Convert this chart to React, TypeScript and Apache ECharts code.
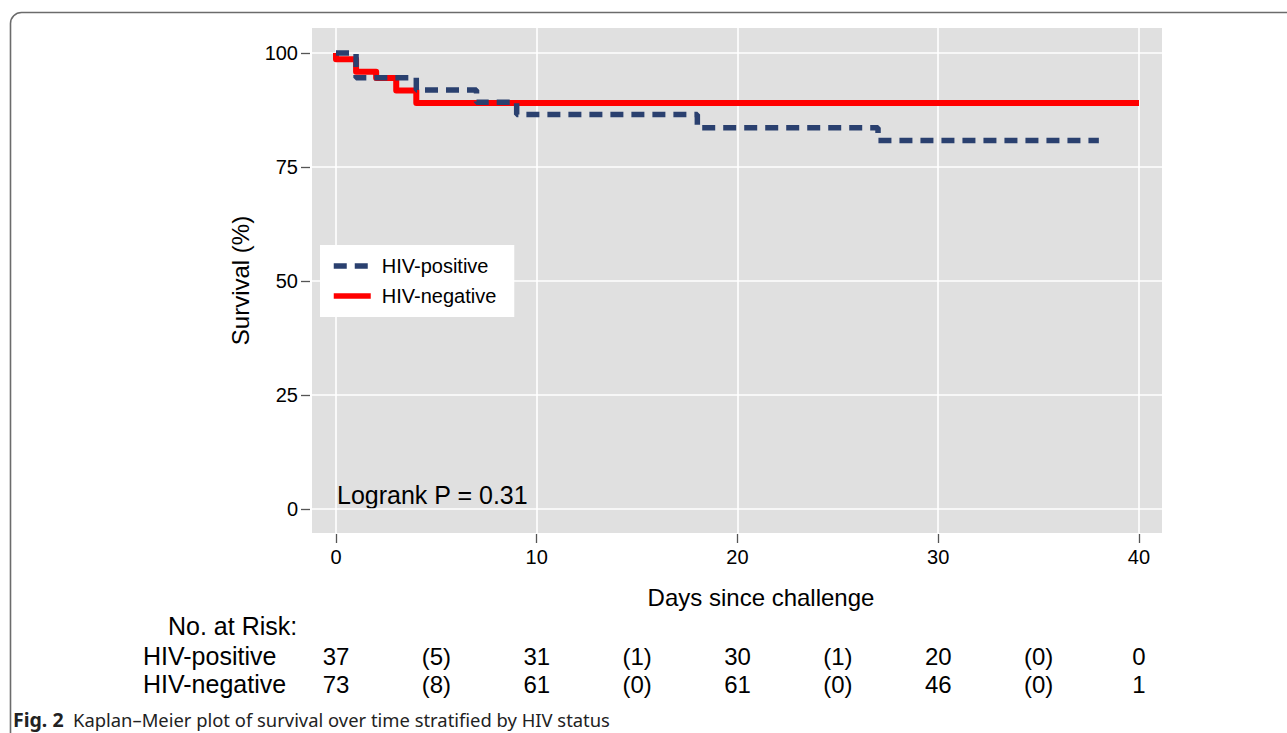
import React, { useEffect, useRef } from "react";
import * as echarts from "echarts";

// ---- data ----
const xTicks = [0, 10, 20, 30, 40];
const yTicks = [0, 25, 50, 75, 100];
const hivPositive: [number, number][] = [
  [0, 100], [1, 94.59], [4, 91.89], [7, 89.19], [9, 86.49], [18, 83.6], [27, 80.8], [38, 80.8],
];
const hivNegative: [number, number][] = [
  [0, 100], [0, 98.63], [1, 95.89], [2, 94.52], [3, 91.78], [4, 89.04], [40, 89.04],
];
const riskDays = [0, 5, 10, 15, 20, 25, 30, 35, 40];
const riskPositive = ["37", "(5)", "31", "(1)", "30", "(1)", "20", "(0)", "0"];
const riskNegative = ["73", "(8)", "61", "(0)", "61", "(0)", "46", "(0)", "1"];
const seriesNames = ["HIV-positive", "HIV-negative"];

const FONT = "'Liberation Sans', Arial, Helvetica, sans-serif";
const CAP_FONT = "'Noto Sans', 'Open Sans', sans-serif";
const X_MIN = -1.1955;
const X_MAX = 41.146;
const Y_MIN = -5.26;
const Y_MAX = 105.48;

function riskAxis(values: string[], offset: number) {
  return {
    type: "value",
    gridIndex: 0,
    min: X_MIN,
    max: X_MAX,
    position: "bottom",
    offset,
    axisLine: { show: false, onZero: false },
    axisTick: { show: false },
    splitLine: { show: false },
    axisLabel: {
      customValues: riskDays,
      formatter: (v: number) => {
        const i = riskDays.indexOf(Math.round(v));
        return i >= 0 ? values[i] : "";
      },
      fontSize: 24,
      fontFamily: FONT,
      color: "#000",
      margin: 0,
      verticalAlign: "middle",
    },
  };
}

export default function App() {
  const ref = useRef<HTMLDivElement>(null);
  useEffect(() => {
    if (!ref.current) return;
    const chart = echarts.init(ref.current, undefined, { renderer: "svg" });
    const option: any = {
      animation: false,
      backgroundColor: "#fff",
      textStyle: { fontFamily: FONT },
      grid: {
        left: 312, top: 28, width: 850, height: 505,
        show: true, backgroundColor: "#e0e0e0", borderWidth: 0,
      },
      xAxis: [
        {
          type: "value", min: X_MIN, max: X_MAX, position: "bottom", offset: 1,
          axisLine: { show: false, onZero: false },
          axisTick: { show: true, customValues: xTicks, length: 9, lineStyle: { color: "#555", width: 1.3 } },
          axisLabel: { customValues: xTicks, fontSize: 20, color: "#000", margin: 23, verticalAlign: "middle", fontFamily: FONT },
          splitLine: { show: true, lineStyle: { color: "#fff", width: 1.6 } },
          name: "Days since challenge", nameLocation: "middle", nameGap: 51,
          nameTextStyle: { fontSize: 24, color: "#000", fontFamily: FONT, padding: [0, 0, 0, 48] },
        },
        riskAxis(riskPositive, 123),
        riskAxis(riskNegative, 151),
      ],
      yAxis: {
        type: "value", min: Y_MIN, max: Y_MAX, offset: 2,
        axisLine: { show: false, onZero: false },
        axisTick: { show: true, customValues: yTicks, length: 9, lineStyle: { color: "#555", width: 1.3 } },
        axisLabel: { customValues: yTicks, fontSize: 20, color: "#000", margin: 12, fontFamily: FONT },
        splitLine: { show: true, lineStyle: { color: "#fff", width: 1.6 } },
        name: "Survival (%)", nameLocation: "middle", nameGap: 58,
        nameTextStyle: { fontSize: 24, color: "#000", fontFamily: FONT },
      },
      legend: {
        data: seriesNames,
        orient: "vertical",
        left: 320, top: 245,
        backgroundColor: "#fff",
        padding: [11, 18, 11, 11],
        itemGap: 10, itemWidth: 37, itemHeight: 20,
        selectedMode: false,
        textStyle: { fontSize: 20, color: "#000", fontFamily: FONT, lineHeight: 20, padding: [0, 0, 0, 6] },
        lineStyle: { width: 5.5 },
        itemStyle: { opacity: 0 },
      },
      series: [
        {
          name: seriesNames[1], type: "line", step: "end", data: hivNegative,
          symbol: "none", showSymbol: false, z: 2,
          lineStyle: { color: "#ff0000", width: 6, join: "round" },
          itemStyle: { color: "#ff0000" },
        },
        {
          name: seriesNames[0], type: "line", step: "end", data: hivPositive,
          symbol: "none", showSymbol: false, z: 3,
          lineStyle: { color: "#2a406f", width: 5.5, type: [13, 8] },
          itemStyle: { color: "#2a406f" },
        },
      ],
      graphic: [
        {
          type: "rect", silent: true, z: -1,
          shape: { x: 10.5, y: 12.5, width: 1400, height: 1000, r: 11 },
          style: { fill: "none", stroke: "#6b6b6b", lineWidth: 1.6 },
        },
        {
          type: "text", x: 337, y: 495,
          style: { text: "Logrank P = 0.31", fontSize: 25, fontFamily: FONT, fill: "#000", align: "left", verticalAlign: "middle" },
        },
        {
          type: "text", x: 168, y: 626,
          style: { text: "No. at Risk:", fontSize: 25, fontFamily: FONT, fill: "#000", align: "left", verticalAlign: "middle" },
        },
        {
          type: "text", x: 143, y: 656,
          style: { text: "HIV-positive", fontSize: 25, fontFamily: FONT, fill: "#000", align: "left", verticalAlign: "middle" },
        },
        {
          type: "text", x: 143, y: 684,
          style: { text: "HIV-negative", fontSize: 25, fontFamily: FONT, fill: "#000", align: "left", verticalAlign: "middle" },
        },
        {
          type: "text", x: 13, y: 719,
          style: { text: "Fig. 2", fontSize: 19.5, fontWeight: "bold", fontFamily: CAP_FONT, fill: "#222", align: "left", verticalAlign: "middle" },
        },
        {
          type: "text", x: 73, y: 719,
          style: { text: "Kaplan–Meier plot of survival over time stratified by HIV status", fontSize: 18.4, fontFamily: CAP_FONT, fill: "#222", align: "left", verticalAlign: "middle" },
        },
      ],
    };
    chart.setOption(option);
    return () => chart.dispose();
  }, []);
  return (
    <div
      ref={ref}
      style={{ position: "absolute", left: 0, top: 0, width: 1287, height: 733 }}
    />
  );
}
